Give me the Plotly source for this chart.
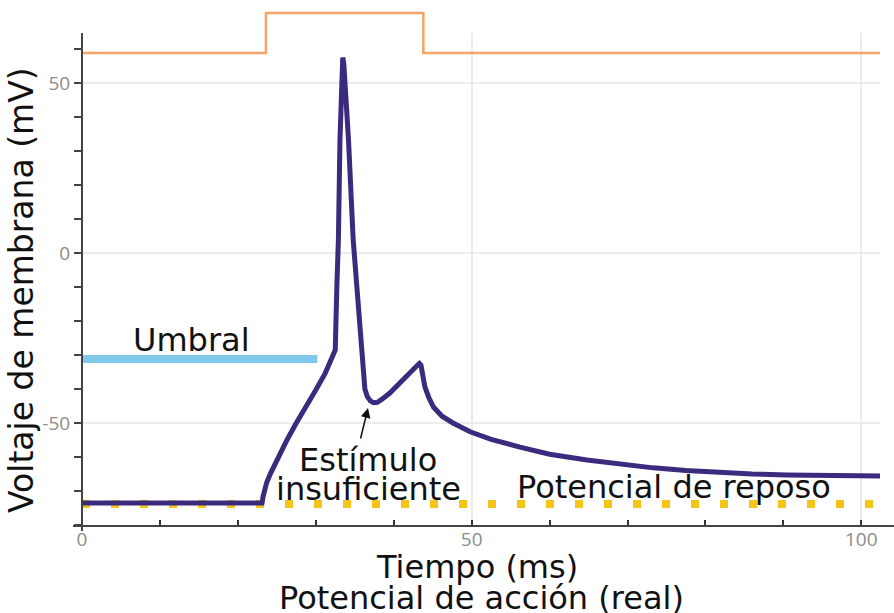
import plotly.graph_objects as go

# ---- data ----
time_ms = [0, 23.1, 23.25, 23.4, 23.7, 24.2, 25.1, 26.3, 27.5, 28.8, 30.0, 31.2, 32.0, 32.5,
           32.7, 32.9, 33.1, 33.25, 33.35, 33.46, 33.6, 33.9, 34.2, 34.8, 35.7, 36.1, 36.3,
           36.6, 37.0, 37.4, 37.9, 38.5, 39.5, 43.1, 43.3, 43.5, 43.7, 44.0, 44.5, 45.1,
           46.2, 47.6, 49.8, 52.5, 56.2, 60.0, 64.8, 69.0, 73.3, 77.5, 81.9, 86.0, 90.5,
           96.0, 102.4]
voltage_mv = [-73.5, -73.5, -71.5, -70.0, -67.5, -64.8, -60.5, -55.0, -50.0, -45.2, -40.3,
              -35.4, -31.5, -28.5, -10.0, 3.8, 33.2, 48.0, 55.5, 57.5, 55.5, 45.0, 33.2, 3.8,
              -25.6, -37.4, -40.0, -42.2, -43.5, -44.0, -43.9, -43.0, -41.2, -32.9, -32.5,
              -33.0, -36.0, -39.4, -42.5, -45.3, -48.0, -50.0, -52.6, -54.8, -57.1, -59.2,
              -60.9, -62.2, -63.2, -64.0, -64.7, -65.0, -65.3, -65.5, -65.6]

stim_t = [0, 23.6, 23.6, 43.8, 43.8, 102.4]
stim_v = [58.8, 58.8, 70.6, 70.6, 58.8, 58.8]

umbral_t = [0, 30.2]
umbral_v = [-31.2, -31.2]

reposo_t = [0, 102.4]
reposo_v = [-73.8, -73.8]

x_major = [0, 50, 100]
x_major_text = ["0", "50", "100"]
y_major = [-50, 0, 50]
y_major_text = ["-50", "0", "50"]

X_RANGE = [0, 102.4]
Y_RANGE = [-80.3, 64.7]
Y2_RANGE = [-80.3, 72.06]

FONT = "DejaVu Sans"
TXT = 32

fig = go.Figure()

fig.add_trace(go.Scatter(x=umbral_t, y=umbral_v, mode="lines",
                         line=dict(color="#80c8ec", width=8), hoverinfo="skip"))
fig.add_trace(go.Scatter(x=reposo_t, y=reposo_v, mode="lines",
                         line=dict(color="#f7c518", width=8, dash="8px,21px"), hoverinfo="skip"))
fig.add_trace(go.Scatter(x=time_ms, y=voltage_mv, mode="lines",
                         line=dict(color="#3b2a7e", width=5), hoverinfo="skip"))
fig.add_trace(go.Scatter(x=stim_t, y=stim_v, mode="lines", xaxis="x2", yaxis="y2",
                         line=dict(color="#f4a565", width=2.5), hoverinfo="skip"))

grid = "#ececec"
fig.update_layout(
    width=894, height=613,
    margin=dict(l=82, r=14, t=8, b=87),
    paper_bgcolor="white", plot_bgcolor="rgba(0,0,0,0)",
    showlegend=False,
    xaxis=dict(range=X_RANGE, domain=[0, 1], anchor="y",
               tickmode="array", tickvals=x_major, ticktext=x_major_text,
               ticks="inside", ticklen=6, tickwidth=1.5, tickcolor="#333",
               minor=dict(tickmode="linear", tick0=0, dtick=10, ticks="inside",
                          ticklen=6, tickwidth=1.5, tickcolor="#333", showgrid=False),
               showgrid=True, gridcolor=grid, gridwidth=2,
               zeroline=False, showline=False, automargin=False,
               tickfont=dict(family="Open Sans", size=19, color="#8c8c8c")),
    yaxis=dict(range=Y_RANGE, domain=[0, 0.9517], anchor="x",
               tickmode="array", tickvals=y_major, ticktext=y_major_text,
               ticks="outside", ticklen=7, tickwidth=1.5, tickcolor="#444",
               minor=dict(tickmode="linear", tick0=0, dtick=10, ticks="outside",
                          ticklen=7, tickwidth=1.5, tickcolor="#444", showgrid=False),
               showgrid=True, gridcolor=grid, gridwidth=2,
               zeroline=False, showline=False, automargin=False,
               tickfont=dict(family="Open Sans", size=19, color="#8c8c8c")),
    xaxis2=dict(range=X_RANGE, domain=[0, 1], anchor="y2", visible=False,
                showgrid=False, zeroline=False),
    yaxis2=dict(range=Y2_RANGE, domain=[0, 1], anchor="x2", visible=False,
                showgrid=False, zeroline=False),
)

# axis lines (extend slightly past the corner as in the reference)
fig.add_shape(type="line", xref="paper", yref="paper", x0=-0.0113, x1=1.0175, y0=0, y1=0,
              line=dict(color="#444", width=2))
fig.add_shape(type="line", xref="paper", yref="paper", x0=0, x1=0, y0=-0.0097, y1=0.9517,
              line=dict(color="#444", width=2))

def note(text, x, y, xref="x", yref="y", angle=0, size=TXT):
    fig.add_annotation(text=text, x=x, y=y, xref=xref, yref=yref, showarrow=False,
                       xanchor="center", yanchor="middle", textangle=angle,
                       font=dict(family=FONT, size=size, color="#111"))

note("Umbral", 14.1, -25.6)
note("Estímulo", 36.7, -60.9)
note("insuficiente", 36.8, -69.4)
note("Potencial de reposo", 76.0, -68.8)
note("Tiempo (ms)", 0.495, -0.0792, "paper", "paper")
note("Potencial de acción (real)", 0.5, -0.139, "paper", "paper")
note("Voltaje de membrana (mV)", -0.0752, 0.4556, "paper", "paper", angle=-90, size=33)

fig.add_annotation(x=36.7, y=-45.6, ax=35.7, ay=-55.0, axref="x", ayref="y",
                   xref="x", yref="y", text="", showarrow=True,
                   arrowhead=2, arrowsize=1.3, arrowwidth=1.5, arrowcolor="#111")

fig.write_html("out.html", config={"displayModeBar": False},
               post_script="document.body.style.margin='0';")
